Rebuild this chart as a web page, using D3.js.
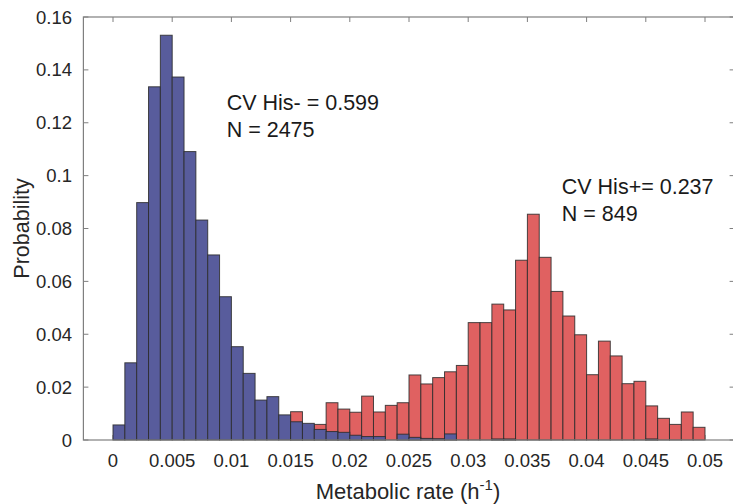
<!DOCTYPE html>
<html>
<head>
<meta charset="utf-8">
<script src="https://cdn.jsdelivr.net/npm/d3@7"></script>
<style>
  body { margin: 0; background: #fff; }
  svg { display: block; font-family: "Liberation Sans", Arial, sans-serif; }
</style>
</head>
<body>
<svg id="chart" width="733" height="504"></svg>
<script>
// bin width of both histograms (h^-1), bins start at 0
var binWidth = 0.001;

// His- (blue) probability per bin, bins 0..0.050
var hisMinus = [0.0057, 0.0292, 0.0898, 0.1336, 0.1531, 0.1373, 0.1091, 0.0832, 0.0700, 0.0542,
                0.0353, 0.0252, 0.0151, 0.0164, 0.0095, 0.0069, 0.0063, 0.0040, 0.0032, 0.0029,
                0.0018, 0.0013, 0.0013, 0, 0.0022, 0.0010, 0.0006, 0.0005, 0.0023, 0,
                0, 0, 0.0004, 0.0004, 0, 0, 0, 0, 0, 0,
                0, 0, 0, 0, 0, 0.0004, 0, 0, 0, 0];

// His+ (red) probability per bin
var hisPlus = [0, 0, 0, 0, 0, 0, 0, 0, 0, 0,
               0, 0, 0, 0, 0, 0.0107, 0.0050, 0.0059, 0.0141, 0.0117,
               0.0105, 0.0166, 0.0106, 0.0131, 0.0141, 0.0246, 0.0212, 0.0236, 0.0258, 0.0282,
               0.0444, 0.0444, 0.0514, 0.0492, 0.0680, 0.0854, 0.0691, 0.0562, 0.0469, 0.0398,
               0.0247, 0.0374, 0.0318, 0.0213, 0.0222, 0.0129, 0.0082, 0.0059, 0.0106, 0.0048];

var xTicks = [0, 0.005, 0.01, 0.015, 0.02, 0.025, 0.03, 0.035, 0.04, 0.045, 0.05];
var yTicks = [0, 0.02, 0.04, 0.06, 0.08, 0.1, 0.12, 0.14, 0.16];

var notes = [
  {x: 0.0096, y: 0.125, lines: ['CV His- = 0.599', 'N = 2475']},
  {x: 0.0379, y: 0.093, lines: ['CV His+= 0.237', 'N = 849']}
];

var svg = d3.select('#chart');
var plotL = 83.4, plotR = 734.6, plotT = 17, plotB = 440;

var x = d3.scaleLinear().domain([-0.0025, 0.0525]).range([plotL, plotR]);
var y = d3.scaleLinear().domain([0, 0.16]).range([plotB, plotT]);

var axisColor = '#7f7f7f';
var textColor = '#262626';

// ticks on all four sides, pointing inwards (drawn under the bars)
var ticks = svg.append('g').attr('stroke', axisColor).attr('stroke-width', 1);
xTicks.forEach(function(t) {
  ticks.append('line').attr('x1', x(t)).attr('x2', x(t)).attr('y1', plotB).attr('y2', plotB - 5);
  ticks.append('line').attr('x1', x(t)).attr('x2', x(t)).attr('y1', plotT).attr('y2', plotT + 5);
});
yTicks.forEach(function(t) {
  ticks.append('line').attr('x1', plotL).attr('x2', plotL + 5).attr('y1', y(t)).attr('y2', y(t));
  ticks.append('line').attr('x1', plotR).attr('x2', plotR - 5).attr('y1', y(t)).attr('y2', y(t));
});

function drawBars(values, fill) {
  var data = values.map(function(v, i) { return {x0: i * binWidth, v: v}; })
                   .filter(function(d) { return d.v > 0; });
  svg.append('g')
    .selectAll('rect')
    .data(data)
    .enter().append('rect')
      .attr('x', function(d) { return x(d.x0); })
      .attr('width', function(d) { return x(d.x0 + binWidth) - x(d.x0); })
      .attr('y', function(d) { return y(d.v); })
      .attr('height', function(d) { return plotB - y(d.v); })
      .attr('fill', fill)
      .attr('stroke', '#2b2b2b')
      .attr('stroke-opacity', 0.85)
      .attr('stroke-width', 1);
}

drawBars(hisPlus, '#e06161');
drawBars(hisMinus, '#585c9c');

// axis box
svg.append('rect')
  .attr('x', plotL).attr('y', plotT)
  .attr('width', plotR - plotL).attr('height', plotB - plotT)
  .attr('fill', 'none')
  .attr('stroke', axisColor)
  .attr('stroke-width', 1.2);

// tick labels
var fmt = function(d) { return d === 0 ? '0' : String(+d.toFixed(3)); };

svg.append('g').selectAll('text')
  .data(xTicks)
  .enter().append('text')
    .attr('x', function(d) { return x(d); })
    .attr('y', 467)
    .attr('text-anchor', 'middle')
    .attr('font-size', 18.5)
    .attr('fill', textColor)
    .text(fmt);

svg.append('g').selectAll('text')
  .data(yTicks)
  .enter().append('text')
    .attr('x', 72)
    .attr('y', function(d) { return y(d) + 6.5; })
    .attr('text-anchor', 'end')
    .attr('font-size', 18.5)
    .attr('fill', textColor)
    .text(fmt);

// axis titles
svg.append('text')
  .attr('transform', 'translate(29,' + ((plotT + plotB) / 2) + ') rotate(-90)')
  .attr('text-anchor', 'middle')
  .attr('font-size', 21.5)
  .attr('fill', textColor)
  .text('Probability');

var xt = svg.append('text')
  .attr('x', 408)
  .attr('y', 499)
  .attr('text-anchor', 'middle')
  .attr('font-size', 22)
  .attr('fill', textColor);
xt.append('tspan').text('Metabolic rate (h');
xt.append('tspan').attr('font-size', 15).attr('dy', -9).text('-1');
xt.append('tspan').attr('dy', 9).text(')');

// annotations
notes.forEach(function(n) {
  n.lines.forEach(function(line, i) {
    svg.append('text')
      .attr('x', x(n.x))
      .attr('y', y(n.y) + i * 27)
      .attr('font-size', 21.5)
      .attr('fill', '#1a1a1a')
      .text(line);
  });
});
</script>
</body>
</html>
